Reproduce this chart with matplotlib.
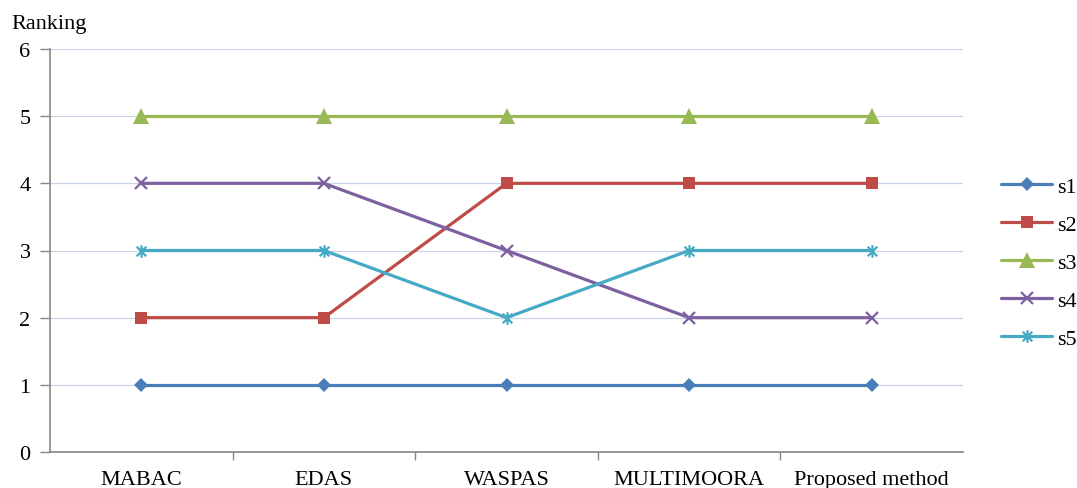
import matplotlib
matplotlib.use("Agg")
import matplotlib.pyplot as plt
from matplotlib.path import Path

categories = ["MABAC", "EDAS", "WASPAS", "MULTIMOORA", "Proposed method"]
s1 = [1, 1, 1, 1, 1]
s2 = [2, 2, 4, 4, 4]
s3 = [5, 5, 5, 5, 5]
s4 = [4, 4, 3, 2, 2]
s5 = [3, 3, 2, 3, 3]
series_names = ["s1", "s2", "s3", "s4", "s5"]
y_ticks = [0, 1, 2, 3, 4, 5, 6]

plt.rcParams["font.family"] = ["Liberation Serif", "DejaVu Serif"]
FS = 16

# asterisk marker: an x with a vertical stroke through it
star = Path([(-1, -1), (1, 1), (-1, 1), (1, -1), (0, -1.3), (0, 1.3)],
            [Path.MOVETO, Path.LINETO, Path.MOVETO, Path.LINETO, Path.MOVETO, Path.LINETO])

styles = [
    dict(color="#4A7EBB", marker="D", markersize=7.5, markeredgewidth=0),
    dict(color="#BE4B48", marker="s", markersize=8.5, markeredgewidth=0),
    dict(color="#98B954", marker="^", markersize=11, markeredgewidth=0),
    dict(color="#7D60A0", marker="x", markersize=8.5, markeredgewidth=1.6),
    dict(color="#46AAC5", marker=star, markersize=9, markeredgewidth=1.6),
]

fig = plt.figure(figsize=(10.77, 4.89), dpi=100)
ax = fig.add_axes([50 / 1077, 1 - 453 / 489, 913 / 1077, 403 / 489])

x = range(len(categories))
for name, vals, st in zip(series_names, [s1, s2, s3, s4, s5], styles):
    ax.plot(x, vals, label=name, linewidth=2.3, solid_capstyle="round",
            markeredgecolor=st["color"], **st)

ax.set_xlim(-0.5, len(categories) - 0.5)
ax.set_ylim(0, 6)
ax.set_yticks(y_ticks)
ax.yaxis.grid(True, color="#C9D5E6", linewidth=0.9)
ax.set_axisbelow(True)

ax.set_xticks([i + 0.5 for i in range(len(categories) - 1)])
ax.set_xticklabels([])
ax.set_xticks(list(x), minor=True)
ax.set_xticklabels(categories, minor=True, fontsize=FS)
ax.tick_params(axis="x", which="minor", length=0, pad=13)
ax.tick_params(axis="x", which="major", length=6, color="#868686", width=1)
ax.tick_params(axis="y", length=7, color="#868686", width=1, labelsize=FS, pad=7)

for side in ("top", "right"):
    ax.spines[side].set_visible(False)
for side in ("left", "bottom"):
    ax.spines[side].set_color("#868686")
    ax.spines[side].set_linewidth(1.2)

fig.text(11 / 1077, 1 - 24 / 489, "Ranking", fontsize=FS, va="center", ha="left")

ax.legend(loc="center left", bbox_to_anchor=(1.02, 0.47), frameon=False,
          fontsize=FS, handlelength=2.3, handletextpad=0.2, labelspacing=0.78)

fig.savefig("out.png", dpi=100)
